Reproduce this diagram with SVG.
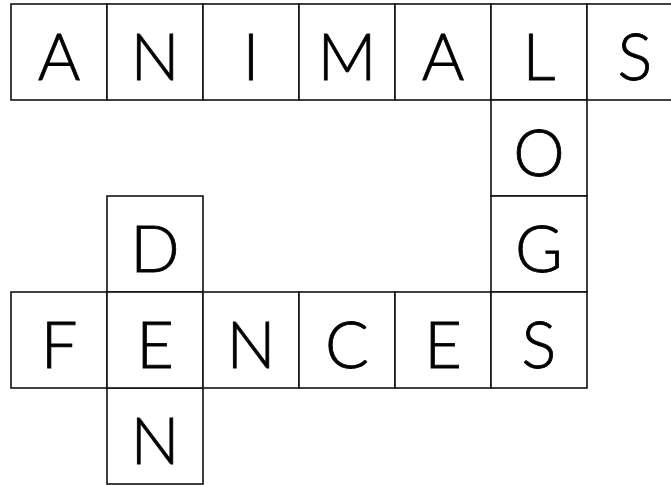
<svg xmlns="http://www.w3.org/2000/svg" width="671" height="485" viewBox="0 0 671 485">
<style>
.c{fill:#fff;stroke:#111;stroke-width:1.6}
.t{font-family:"Lato","Noto Sans","Liberation Sans",sans-serif;font-weight:300;font-size:65px;fill:#000;stroke:#000;stroke-width:0.8;text-anchor:middle}
</style>
<rect width="671" height="485" fill="#fff"/>
<g id="word-animals">
<rect class="c" x="11" y="4" width="96" height="96"/><text class="t" x="59" y="80">A</text>
<rect class="c" x="107" y="4" width="96" height="96"/><text class="t" x="155" y="80">N</text>
<rect class="c" x="203" y="4" width="96" height="96"/><text class="t" x="251" y="80">I</text>
<rect class="c" x="299" y="4" width="96" height="96"/><text class="t" x="347" y="80">M</text>
<rect class="c" x="395" y="4" width="96" height="96"/><text class="t" x="443" y="80">A</text>
<rect class="c" x="491" y="4" width="96" height="96"/><text class="t" x="539" y="80">L</text>
<rect class="c" x="587" y="4" width="96" height="96"/><text class="t" x="635" y="80">S</text>
</g>
<g id="word-logs">
<rect class="c" x="491" y="100" width="96" height="96"/><text class="t" x="539" y="176">O</text>
<rect class="c" x="491" y="196" width="96" height="96"/><text class="t" x="539" y="272">G</text>
</g>
<g id="word-den">
<rect class="c" x="107" y="196" width="96" height="96"/><text class="t" x="155" y="272">D</text>
<rect class="c" x="107" y="388" width="96" height="96"/><text class="t" x="155" y="464">N</text>
</g>
<g id="word-fences">
<rect class="c" x="11" y="292" width="96" height="96"/><text class="t" x="59" y="368">F</text>
<rect class="c" x="107" y="292" width="96" height="96"/><text class="t" x="155" y="368">E</text>
<rect class="c" x="203" y="292" width="96" height="96"/><text class="t" x="251" y="368">N</text>
<rect class="c" x="299" y="292" width="96" height="96"/><text class="t" x="347" y="368">C</text>
<rect class="c" x="395" y="292" width="96" height="96"/><text class="t" x="443" y="368">E</text>
<rect class="c" x="491" y="292" width="96" height="96"/><text class="t" x="539" y="368">S</text>
</g>
<g id="connectors"></g>
</svg>
